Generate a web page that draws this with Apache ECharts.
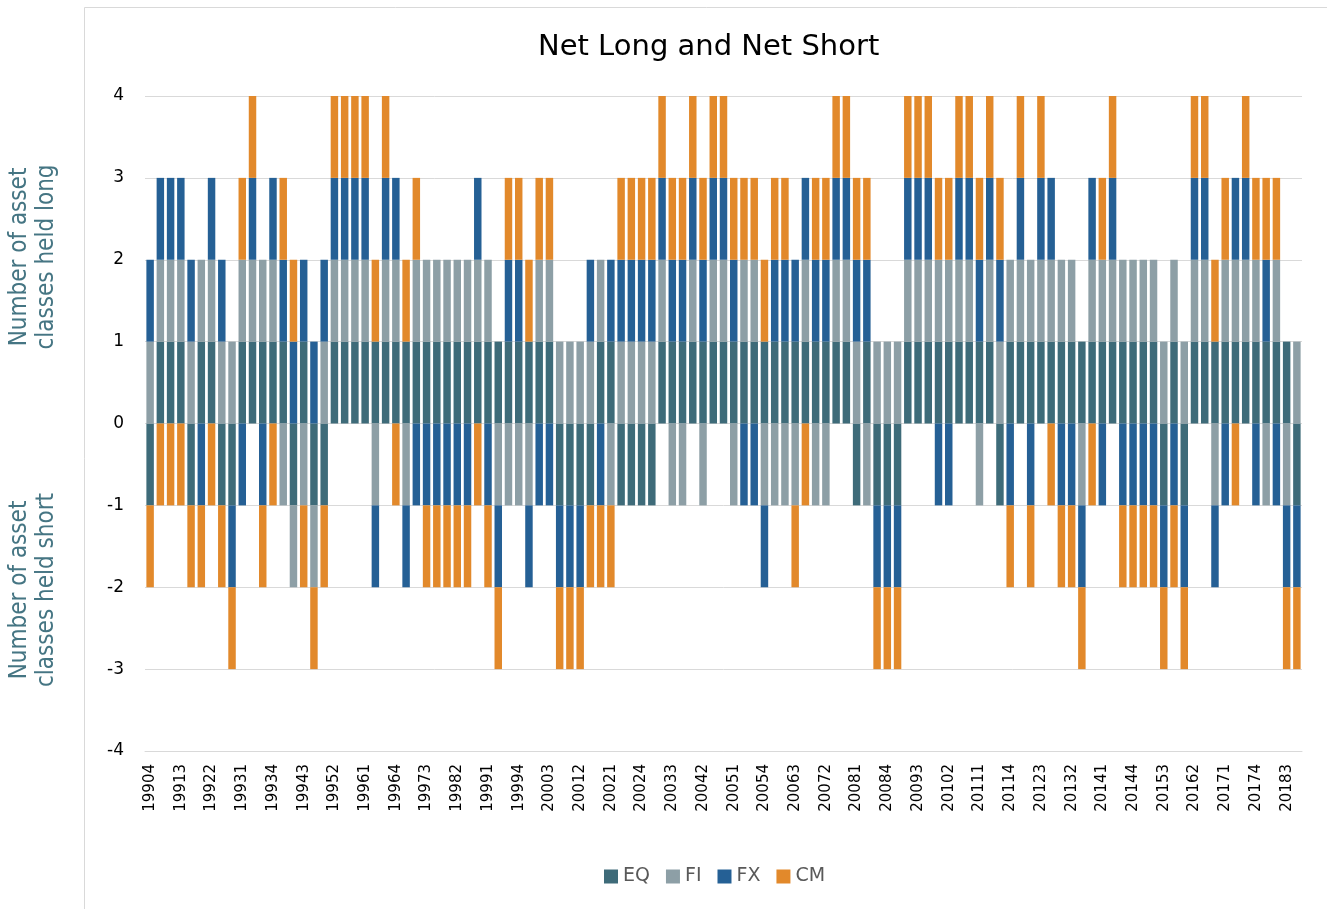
<!DOCTYPE html>
<html>
<head>
<meta charset="utf-8">
<title>Net Long and Net Short</title>
<script src="https://cdn.jsdelivr.net/npm/echarts@6/dist/echarts.min.js"></script>
<style>
  html, body { margin: 0; padding: 0; background: #fff; }
  #chart { width: 1327px; height: 909px; }
</style>
</head>
<body>
<div id="chart"></div>
<script>
// quarters 19904 .. 20184
const firstYear = 1990, firstQuarter = 4, quarterCount = 113
const categories = []
for (let i = 0; i < quarterCount; i++) {
  const q = firstQuarter - 1 + i
  categories.push(String(firstYear + Math.floor(q / 4)) + String(q % 4 + 1))
}

// +1 = held long, -1 = held short
const EQ = [
  -1, 1, 1, 1, -1, 1, 1, -1, -1, 1,
  1, 1, 1, 1, -1, 1, -1, -1, 1, 1,
  1, 1, 1, 1, 1, 1, 1, 1, 1, 1,
  1, 1, 1, 1, 1, 1, 1, 1, 1, 1,
  -1, -1, -1, -1, 1, 1, -1, -1, -1, -1,
  1, 1, 1, 1, 1, 1, 1, 1, 1, 1,
  1, 1, 1, 1, 1, 1, 1, 1, 1, -1,
  1, -1, -1, -1, 1, 1, 1, 1, 1, 1,
  1, 1, 1, -1, 1, 1, 1, 1, 1, 1,
  1, 1, 1, 1, 1, 1, 1, 1, 1, -1,
  1, -1, 1, 1, 1, 1, 1, 1, 1, 1,
  1, 1, -1
]
const FI = [
  1, 1, 1, 1, 1, 1, 1, 1, 1, 1,
  1, 1, 1, -1, -1, -1, -1, 1, 1, 1,
  1, 1, -1, 1, 1, -1, 1, 1, 1, 1,
  1, 1, 1, 1, -1, -1, -1, -1, 1, 1,
  1, 1, 1, 1, 1, -1, 1, 1, 1, 1,
  1, -1, -1, 1, -1, 1, 1, -1, 1, 1,
  -1, -1, -1, -1, 1, -1, -1, 1, 1, 1,
  -1, 1, 1, 1, 1, 1, 1, 1, 1, 1,
  1, -1, 1, 1, 1, 1, 1, 1, 1, 1,
  1, -1, 1, 1, 1, 1, 1, 1, 1, 1,
  1, 1, 1, 1, -1, 1, 1, 1, 1, -1,
  1, -1, 1
]
const FX = [
  1, 1, 1, 1, 1, -1, 1, 1, -1, -1,
  1, -1, 1, 1, 1, 1, 1, 1, 1, 1,
  1, 1, -1, 1, 1, -1, -1, -1, -1, -1,
  -1, -1, 1, -1, -1, 1, 1, -1, -1, -1,
  -1, -1, -1, 1, -1, 1, 1, 1, 1, 1,
  1, 1, 1, 1, 1, 1, 1, 1, -1, -1,
  -1, 1, 1, 1, 1, 1, 1, 1, 1, 1,
  1, -1, -1, -1, 1, 1, 1, -1, -1, 1,
  1, 1, 1, 1, -1, 1, -1, 1, 1, -1,
  -1, -1, 1, -1, 1, -1, -1, -1, -1, -1,
  -1, -1, 1, 1, -1, -1, 1, 1, -1, 1,
  -1, -1, -1
]
const CM = [
  -1, -1, -1, -1, -1, -1, -1, -1, -1, 1,
  1, -1, -1, 1, 1, -1, -1, -1, 1, 1,
  1, 1, 1, 1, -1, 1, 1, -1, -1, -1,
  -1, -1, -1, -1, -1, 1, 1, 1, 1, 1,
  -1, -1, -1, -1, -1, -1, 1, 1, 1, 1,
  1, 1, 1, 1, 1, 1, 1, 1, 1, 1,
  1, 1, 1, -1, -1, 1, 1, 1, 1, 1,
  1, -1, -1, -1, 1, 1, 1, 1, 1, 1,
  1, 1, 1, 1, -1, 1, -1, 1, -1, -1,
  -1, -1, -1, 1, 1, -1, -1, -1, -1, -1,
  -1, -1, 1, 1, 1, 1, -1, 1, 1, 1,
  1, -1, -1
]

const yTicks = { min: -4, max: 4, interval: 1 }

const seriesColor = {
  EQ: '#3e6b79',
  FI: '#8d9fa6',
  FX: '#256095',
  CM: '#e2892b'
}

function barSeries(name, data) {
  return {
    name: name,
    type: 'bar',
    stack: 'net',
    data: data,
    barCategoryGap: '27%',
    itemStyle: { color: seriesColor[name] },
    emphasis: { disabled: true }
  }
}

const titleFont = "'DejaVu Sans Condensed', 'DejaVu Sans'"

const chart = echarts.init(document.getElementById('chart'))

const option = {
  animation: false,
  backgroundColor: '#fff',
  title: {
    text: 'Net Long and Net Short',
    left: 533,
    top: 28,
    textStyle: {
      fontFamily: 'DejaVu Sans',
      fontSize: 29,
      fontWeight: 'normal',
      color: '#000'
    }
  },
  legend: {
    top: 862,
    left: 599,
    icon: 'rect',
    itemWidth: 14,
    itemHeight: 14,
    itemGap: 16,
    textStyle: { fontFamily: 'DejaVu Sans', fontSize: 19, color: '#595959' },
    data: ['EQ', 'FI', 'FX', 'CM']
  },
  grid: {
    left: 145,
    right: 25,
    top: 96,
    bottom: 158,
    containLabel: false
  },
  xAxis: {
    type: 'category',
    data: categories,
    axisLine: { onZero: false, lineStyle: { color: '#d9d9d9' } },
    axisTick: { show: false },
    axisLabel: {
      interval: 2,
      rotate: 90,
      margin: 13,
      fontFamily: 'DejaVu Sans',
      fontSize: 15,
      color: '#000'
    }
  },
  yAxis: {
    type: 'value',
    min: yTicks.min,
    max: yTicks.max,
    interval: yTicks.interval,
    axisLine: { show: false },
    axisTick: { show: false },
    splitLine: { lineStyle: { color: '#d9d9d9' } },
    axisLabel: {
      margin: 21,
      fontFamily: 'DejaVu Sans',
      fontSize: 17,
      color: '#000'
    }
  },
  graphic: [
    {
      // chart frame, only left and top edges fall inside the page
      type: 'rect',
      shape: { x: 84.5, y: 7.5, width: 1400, height: 1000 },
      style: { fill: 'none', stroke: '#d9d9d9', lineWidth: 1 },
      silent: true
    },
    {
      type: 'text',
      x: 33,
      y: 257,
      rotation: Math.PI / 2,
      style: {
        text: 'Number of asset\nclasses held long',
        fontFamily: titleFont,
        fontSize: 24,
        lineHeight: 27,
        fill: '#457583',
        align: 'center',
        verticalAlign: 'middle'
      }
    },
    {
      type: 'text',
      x: 33,
      y: 590,
      rotation: Math.PI / 2,
      style: {
        text: 'Number of asset\nclasses held short',
        fontFamily: titleFont,
        fontSize: 24,
        lineHeight: 27,
        fill: '#457583',
        align: 'center',
        verticalAlign: 'middle'
      }
    }
  ],
  series: [
    barSeries('EQ', EQ),
    barSeries('FI', FI),
    barSeries('FX', FX),
    barSeries('CM', CM)
  ]
}

chart.setOption(option)
</script>
</body>
</html>
